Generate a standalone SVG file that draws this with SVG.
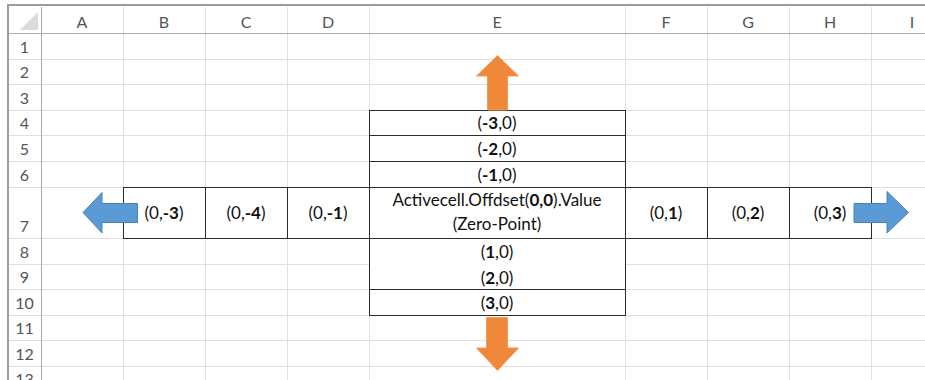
<svg xmlns="http://www.w3.org/2000/svg" width="925" height="380" viewBox="0 0 925 380">
  <style>
    .grid { stroke: #e0e0e0; stroke-width: 1; fill: none; }
    .hdrline { stroke: #ababab; stroke-width: 1; fill: none; }
    .frame { stroke: #9c9c9c; stroke-width: 2; fill: none; }
    .box { fill: #ffffff; stroke: #2b2b2b; stroke-width: 1; }
    .hdr { font-family: Lato, "Liberation Sans", sans-serif; font-size: 16px; fill: #555555; text-anchor: middle; }
    .cell { font-family: Lato, "Liberation Sans", sans-serif; font-size: 17px; fill: #111111; text-anchor: middle; }
    .b { font-weight: bold; }
    .blue { fill: #5b9bd5; stroke: #4a82b8; stroke-width: 1; }
    .orange { fill: #f0883a; stroke: #f39a5a; stroke-width: 1; }
  </style>

  <rect x="0" y="0" width="925" height="380" fill="#ffffff"/>

  <!-- sheet gridlines -->
  <g id="gridlines">
    <path class="grid" d="M123.5 7V380 M205.5 7V380 M287.5 7V380 M369.5 7V380 M625.5 7V380 M707.5 7V380 M789.5 7V380 M871.5 7V380"/>
    <path class="grid" d="M9 59.5H925 M9 84.5H925 M9 110.5H925 M9 135.5H925 M9 161.5H925 M9 187.5H925 M9 238.5H925 M9 264.5H925 M9 289.5H925 M9 315.5H925 M9 340.5H925 M9 366.5H925"/>
    <path class="hdrline" d="M9 33.5H925 M41.5 7V380"/>
    <path class="frame" d="M7 5H925 M8 4V380"/>
    <polygon points="38,12 38,30 20,30" fill="#dcdcdc"/>
  </g>

  <!-- column headers -->
  <g id="col-headers" class="hdr">
    <text x="82" y="28">A</text>
    <text x="164" y="28">B</text>
    <text x="246" y="28">C</text>
    <text x="328" y="28">D</text>
    <text x="497" y="28">E</text>
    <text x="666" y="28">F</text>
    <text x="748" y="28">G</text>
    <text x="830" y="28">H</text>
    <text x="912" y="28">I</text>
  </g>

  <!-- row headers -->
  <g id="row-headers" class="hdr">
    <text x="24.5" y="53">1</text>
    <text x="24.5" y="78">2</text>
    <text x="24.5" y="104">3</text>
    <text x="24.5" y="129">4</text>
    <text x="24.5" y="155">5</text>
    <text x="24.5" y="181">6</text>
    <text x="24.5" y="232">7</text>
    <text x="24.5" y="258">8</text>
    <text x="24.5" y="283">9</text>
    <text x="24.5" y="309">10</text>
    <text x="24.5" y="334">11</text>
    <text x="24.5" y="360">12</text>
    <text x="24.5" y="385">13</text>
  </g>

  <!-- cells above the zero point -->
  <g id="cell-m3">
    <rect class="box" x="369.5" y="110.5" width="256" height="25"/>
    <text class="cell" x="497" y="129">(<tspan class="b">-3</tspan>,0)</text>
  </g>
  <g id="cell-m2">
    <rect class="box" x="369.5" y="135.5" width="256" height="26"/>
    <text class="cell" x="497" y="155">(<tspan class="b">-2</tspan>,0)</text>
  </g>
  <g id="cell-m1">
    <rect class="box" x="369.5" y="161.5" width="256" height="26"/>
    <text class="cell" x="497" y="181">(<tspan class="b">-1</tspan>,0)</text>
  </g>

  <!-- row 7: columns to the left, zero point, columns to the right -->
  <g id="cell-c3">
    <rect class="box" x="123.5" y="187.5" width="82" height="51"/>
    <text class="cell" x="164" y="219">(0,<tspan class="b">-3</tspan>)</text>
  </g>
  <g id="cell-c4">
    <rect class="box" x="205.5" y="187.5" width="82" height="51"/>
    <text class="cell" x="246" y="219">(0,<tspan class="b">-4</tspan>)</text>
  </g>
  <g id="cell-c1">
    <rect class="box" x="287.5" y="187.5" width="82" height="51"/>
    <text class="cell" x="328" y="219">(0,<tspan class="b">-1</tspan>)</text>
  </g>
  <g id="cell-zero">
    <rect class="box" x="369.5" y="187.5" width="256" height="51"/>
    <text class="cell" x="497" y="206">Activecell.Offdset(<tspan class="b">0,0</tspan>).Value</text>
    <text class="cell" x="497" y="230">(Zero-Point)</text>
  </g>
  <g id="cell-p1">
    <rect class="box" x="625.5" y="187.5" width="82" height="51"/>
    <text class="cell" x="666" y="219">(0,<tspan class="b">1</tspan>)</text>
  </g>
  <g id="cell-p2">
    <rect class="box" x="707.5" y="187.5" width="82" height="51"/>
    <text class="cell" x="748" y="219">(0,<tspan class="b">2</tspan>)</text>
  </g>
  <g id="cell-p3">
    <rect class="box" x="789.5" y="187.5" width="82" height="51"/>
    <text class="cell" x="830" y="219">(0,<tspan class="b">3</tspan>)</text>
  </g>

  <!-- cells below the zero point -->
  <g id="cell-r12">
    <rect class="box" x="369.5" y="238.5" width="256" height="51"/>
    <text class="cell" x="497" y="258">(<tspan class="b">1</tspan>,0)</text>
    <text class="cell" x="497" y="284">(<tspan class="b">2</tspan>,0)</text>
  </g>
  <g id="cell-r3">
    <rect class="box" x="369.5" y="289.5" width="256" height="26"/>
    <text class="cell" x="497" y="309">(<tspan class="b">3</tspan>,0)</text>
  </g>

  <!-- direction arrows -->
  <g id="connectors">
    <polygon class="orange" points="497.5,55.5 518.5,76 507.5,76 507.5,110 487.5,110 487.5,76 476.5,76"/>
    <polygon class="orange" points="486.5,317.5 507.5,317.5 507.5,348 518.5,348 497.5,370.5 476.5,348 486.5,348"/>
    <polygon class="blue" points="83,212.5 102,192.5 102,203.5 137.5,203.5 137.5,222.5 102,222.5 102,233"/>
    <polygon class="blue" points="854,203.5 887,203.5 887,191.5 908.5,212.5 887,233 887,222.5 854,222.5"/>
  </g>
</svg>
